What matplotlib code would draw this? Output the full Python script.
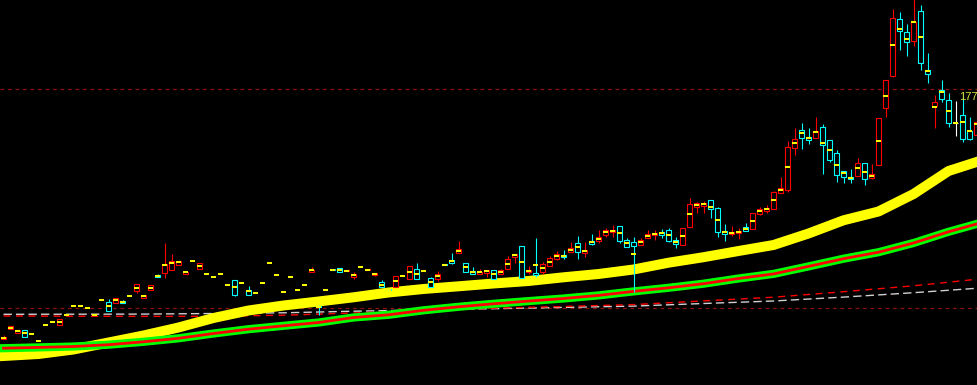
import matplotlib
matplotlib.use("Agg")
import matplotlib.pyplot as plt
from matplotlib.patches import Rectangle

# daily bars (left to right)
opens = [6.07, 7.10, 6.73, 7.00, 6.60, 5.87, 7.47, 7.77, 7.47, 8.50,
         9.37, 9.37, 9.17, 8.53, 9.97, 9.80, 9.73, 9.87, 10.37, 10.87,
         10.20, 11.00, 12.53, 12.73, 13.03, 13.53, 12.63, 13.87, 13.07, 12.57,
         12.27, 12.57, 11.47, 11.97, 11.67, 10.97, 10.67, 11.67, 13.67, 12.47,
         10.77, 12.27, 10.97, 11.47, 12.83, 9.40, 10.97, 13.10, 13.17, 12.87,
         12.27, 13.27, 12.97, 12.47, 11.80, 11.10, 11.33, 12.37, 12.13, 13.07,
         12.87, 12.17, 12.13, 13.60, 14.00, 14.70, 13.70, 12.87, 12.63, 12.73,
         12.97, 12.57, 13.07, 14.33, 15.37, 12.77, 12.73, 12.80, 13.43, 14.10,
         14.53, 14.83, 15.70, 14.67, 15.90, 15.87, 16.53, 16.80, 17.40, 16.00,
         15.80, 15.47, 16.17, 16.50, 16.77, 17.00, 15.97, 15.53, 17.27, 19.33,
         19.40, 20.00, 19.17, 16.87, 16.60, 16.67, 17.27, 17.13, 18.63, 18.90,
         19.13, 20.73, 21.00, 25.23, 26.97, 26.33, 26.23, 27.27, 26.00, 24.67,
         22.87, 22.33, 22.43, 23.67, 22.17, 23.47, 29.23, 32.40, 38.07, 36.80,
         35.93, 38.87, 33.00, 29.43, 31.00, 30.00, 27.75, 28.47, 26.93, 26.50]
highs = [6.47, 7.40, 7.00, 7.00, 6.60, 5.87, 7.47, 7.77, 8.07, 8.50,
         9.37, 9.37, 9.17, 8.53, 9.97, 10.10, 10.20, 9.97, 10.37, 11.60,
         10.50, 11.47, 12.60, 15.73, 14.60, 13.87, 12.83, 13.87, 13.67, 12.57,
         12.27, 12.57, 11.47, 11.97, 11.67, 11.40, 10.67, 11.67, 13.67, 12.47,
         10.77, 12.27, 10.97, 11.47, 13.27, 9.50, 10.97, 13.10, 13.17, 13.00,
         12.77, 13.27, 13.10, 12.73, 12.00, 11.10, 12.40, 12.37, 13.37, 13.70,
         12.87, 12.33, 12.90, 13.60, 14.70, 15.90, 13.70, 13.27, 13.07, 12.97,
         12.97, 13.10, 14.40, 14.60, 15.37, 13.43, 16.20, 13.83, 14.43, 14.87,
         14.97, 15.80, 16.40, 15.80, 16.60, 17.03, 17.20, 17.50, 17.40, 16.17,
         16.30, 16.23, 17.00, 17.00, 17.10, 17.20, 16.30, 17.20, 20.20, 19.80,
         19.90, 20.00, 19.27, 17.57, 17.40, 17.20, 17.73, 18.70, 19.27, 19.50,
         20.90, 22.30, 25.90, 27.20, 27.67, 27.23, 28.30, 27.57, 26.00, 24.97,
         22.87, 23.10, 24.20, 23.67, 23.60, 28.17, 31.97, 39.10, 38.80, 37.60,
         40.20, 39.50, 34.67, 30.50, 32.00, 30.67, 29.90, 30.33, 28.33, 29.60]
lows = [6.07, 7.10, 6.73, 6.33, 6.60, 5.87, 7.47, 7.77, 7.47, 8.50,
        9.37, 9.37, 9.17, 8.53, 9.97, 8.93, 9.73, 9.67, 10.37, 10.70,
        10.20, 11.00, 12.33, 12.23, 13.03, 13.53, 12.63, 13.87, 13.07, 12.57,
        12.27, 12.57, 11.47, 10.40, 11.67, 10.53, 10.67, 11.67, 13.67, 12.47,
        10.77, 12.27, 10.97, 11.47, 12.83, 8.50, 10.97, 12.97, 12.77, 12.87,
        12.13, 13.27, 12.97, 12.40, 11.27, 10.97, 11.33, 12.37, 12.13, 12.13,
        12.87, 11.33, 11.90, 13.47, 13.63, 14.70, 12.83, 12.57, 12.63, 12.33,
        12.13, 12.57, 13.07, 13.67, 12.23, 12.60, 12.33, 12.60, 13.43, 13.97,
        14.07, 14.83, 14.13, 14.33, 15.50, 15.73, 16.33, 16.27, 15.73, 15.33,
        10.80, 15.47, 16.17, 16.00, 16.23, 15.80, 15.23, 15.53, 17.27, 18.67,
        18.73, 18.20, 16.33, 15.93, 16.40, 16.10, 16.93, 17.13, 18.47, 18.70,
        19.13, 20.73, 20.80, 24.53, 25.10, 25.57, 26.23, 22.60, 23.83, 21.80,
        21.73, 21.70, 22.43, 21.53, 22.07, 23.47, 28.33, 32.27, 35.00, 34.43,
        35.43, 33.00, 31.73, 27.23, 29.80, 27.33, 26.43, 25.83, 26.00, 26.40]
closes = [6.33, 7.40, 7.00, 6.33, 6.60, 5.87, 7.47, 7.77, 8.07, 8.50,
          9.37, 9.37, 9.17, 8.53, 9.97, 8.93, 10.20, 9.67, 10.37, 11.60,
          10.50, 11.47, 12.33, 13.57, 13.87, 13.87, 12.83, 13.87, 13.67, 12.57,
          12.27, 12.57, 11.47, 10.53, 11.67, 10.53, 10.67, 11.67, 13.67, 12.47,
          10.77, 12.27, 10.97, 11.47, 12.97, 9.30, 10.97, 12.97, 12.77, 13.00,
          12.63, 13.27, 13.10, 12.67, 11.27, 10.97, 12.40, 12.37, 13.37, 12.13,
          12.87, 11.33, 12.60, 13.47, 13.73, 15.10, 12.83, 12.57, 12.83, 12.97,
          12.13, 13.00, 14.10, 14.60, 12.23, 13.00, 12.53, 13.63, 14.23, 14.63,
          14.27, 15.20, 14.83, 15.03, 15.60, 16.27, 17.00, 17.00, 15.93, 15.33,
          15.43, 16.00, 16.60, 16.73, 16.53, 15.93, 15.60, 17.20, 19.57, 19.67,
          19.70, 19.13, 16.83, 16.63, 16.83, 16.93, 16.93, 18.70, 19.10, 19.17,
          20.80, 21.20, 25.30, 26.07, 26.20, 26.03, 26.93, 25.53, 24.00, 22.50,
          22.33, 22.13, 23.70, 22.13, 22.57, 28.17, 31.97, 38.17, 36.93, 35.83,
          37.77, 33.67, 32.60, 29.77, 30.13, 27.67, 27.75, 26.07, 26.07, 27.83]
avgs = [6.23, 7.25, 6.87, 6.67, 6.60, 5.87, 7.47, 7.77, 7.77, 8.50,
        9.37, 9.37, 9.17, 8.53, 9.97, 9.40, 9.97, 9.77, 10.37, 11.23,
        10.37, 11.23, 12.43, 13.53, 13.67, 13.77, 12.77, 13.87, 13.37, 12.57,
        12.27, 12.57, 11.47, 11.27, 11.67, 10.90, 10.67, 11.67, 13.67, 12.47,
        10.77, 12.27, 10.97, 11.47, 12.97, 9.30, 10.97, 13.03, 12.97, 12.93,
        12.47, 13.27, 13.03, 12.57, 11.53, 11.03, 11.87, 12.37, 12.77, 12.63,
        12.87, 11.77, 12.37, 13.53, 13.87, 14.93, 13.27, 12.77, 12.77, 12.87,
        12.57, 12.77, 13.63, 14.47, 13.77, 12.93, 13.47, 13.20, 13.83, 14.40,
        14.40, 15.03, 15.27, 14.87, 15.77, 16.07, 16.77, 16.90, 16.67, 15.67,
        14.57, 15.77, 16.40, 16.63, 16.67, 16.47, 15.80, 16.40, 18.57, 19.50,
        19.57, 19.33, 18.00, 16.77, 16.73, 16.80, 17.13, 17.90, 18.93, 19.07,
        20.00, 21.00, 23.27, 25.73, 26.67, 26.20, 26.83, 25.73, 24.97, 23.50,
        22.67, 22.23, 23.17, 22.77, 22.43, 25.87, 30.37, 35.47, 37.10, 36.13,
        37.77, 36.27, 32.95, 29.30, 30.83, 28.87, 27.75, 27.77, 26.93, 27.60]

# moving averages, read every few bars
ma_idx = list(range(0, 140, 5)) + [139]
ma_fast = [4.40, 4.60, 5.05, 5.75, 6.45, 7.25, 8.20, 8.95, 9.45, 9.85,
           10.27, 10.75, 11.10, 11.37, 11.65, 11.90, 12.27, 12.60, 13.05, 13.73,
           14.28, 14.90, 15.50, 16.65, 17.97, 18.85, 20.60, 22.90, 23.80]
ma_mid = [5.18, 5.26, 5.35, 5.53, 5.82, 6.17, 6.65, 7.08, 7.42, 7.75,
          8.25, 8.52, 8.97, 9.32, 9.62, 9.89, 10.15, 10.46, 10.86, 11.22,
          11.63, 12.15, 12.61, 13.36, 14.13, 14.78, 15.70, 16.82, 17.60]
slow_idx = list(range(0, 140, 10)) + [139]
ma_slow1 = [8.57, 8.58, 8.59, 8.65, 8.72, 8.88, 9.00, 9.13, 9.26, 9.39,
            9.65, 9.90, 10.29, 10.73, 11.17]
ma_slow2 = [8.40, 8.38, 8.36, 8.37, 8.48, 8.70, 8.95, 9.18, 9.35, 9.54,
            9.91, 10.28, 10.83, 11.42, 12.07]
levels = [9.17, 31.07]
tag_text = "177"

UP = "#ff0000"
DOWN = "#00ffff"
AVG = "#ffff00"

fig = plt.figure(figsize=(9.78, 3.85), dpi=100, facecolor="black")
ax = fig.add_axes([0, 0, 1, 1])
ax.set_facecolor("black")
ax.set_xlim(-0.5, 139.21)
ax.set_ylim(1.5, 40.0)
ax.axis("off")

for lv in levels:
    ax.axhline(lv, color="#8b1010", lw=0.9, dashes=(3, 3), zorder=1)

# long averages, dashed
ax.plot(slow_idx, ma_slow1, color="#d0d0d0", lw=1.0, dashes=(6, 3), zorder=2)
ax.plot(slow_idx, ma_slow2, color="#ff0000", lw=1.0, dashes=(5, 4), zorder=2)

# thick yellow one, then green with red core
ax.plot(ma_idx, ma_fast, color="#ffff00", lw=7.2, solid_capstyle="projecting", zorder=3)
ax.plot(ma_idx, ma_mid, color="#00ff00", lw=5.9, solid_capstyle="projecting", zorder=4)
ax.plot(ma_idx, ma_mid, color="#ff0000", lw=2.0, solid_capstyle="projecting", zorder=4)

w = 0.36
for i in range(len(opens)):
    o, h, l, c, a = opens[i], highs[i], lows[i], closes[i], avgs[i]
    if c > o:
        col = UP
    elif c < o:
        col = DOWN
    elif h > l:
        col = "#ffffff"
    else:
        col = None  # flat day, only the avg tick shows
    if col:
        ax.vlines(i, l, h, color=col, lw=0.8, zorder=5)
        ax.add_patch(Rectangle((i - w, min(o, c)), 2 * w, abs(c - o),
                               facecolor="black", edgecolor=col, lw=0.8, zorder=6))
    ax.hlines(a, i - w, i + w, color=AVG, lw=1.4, zorder=7)

fig.text(977.5 / 978, 1 - 97.0 / 385, tag_text, color="#d8e83c", fontsize=8,
         family=["Liberation Sans", "DejaVu Sans"], va="center", ha="right")

fig.savefig("out.png", dpi=100, facecolor="black")
